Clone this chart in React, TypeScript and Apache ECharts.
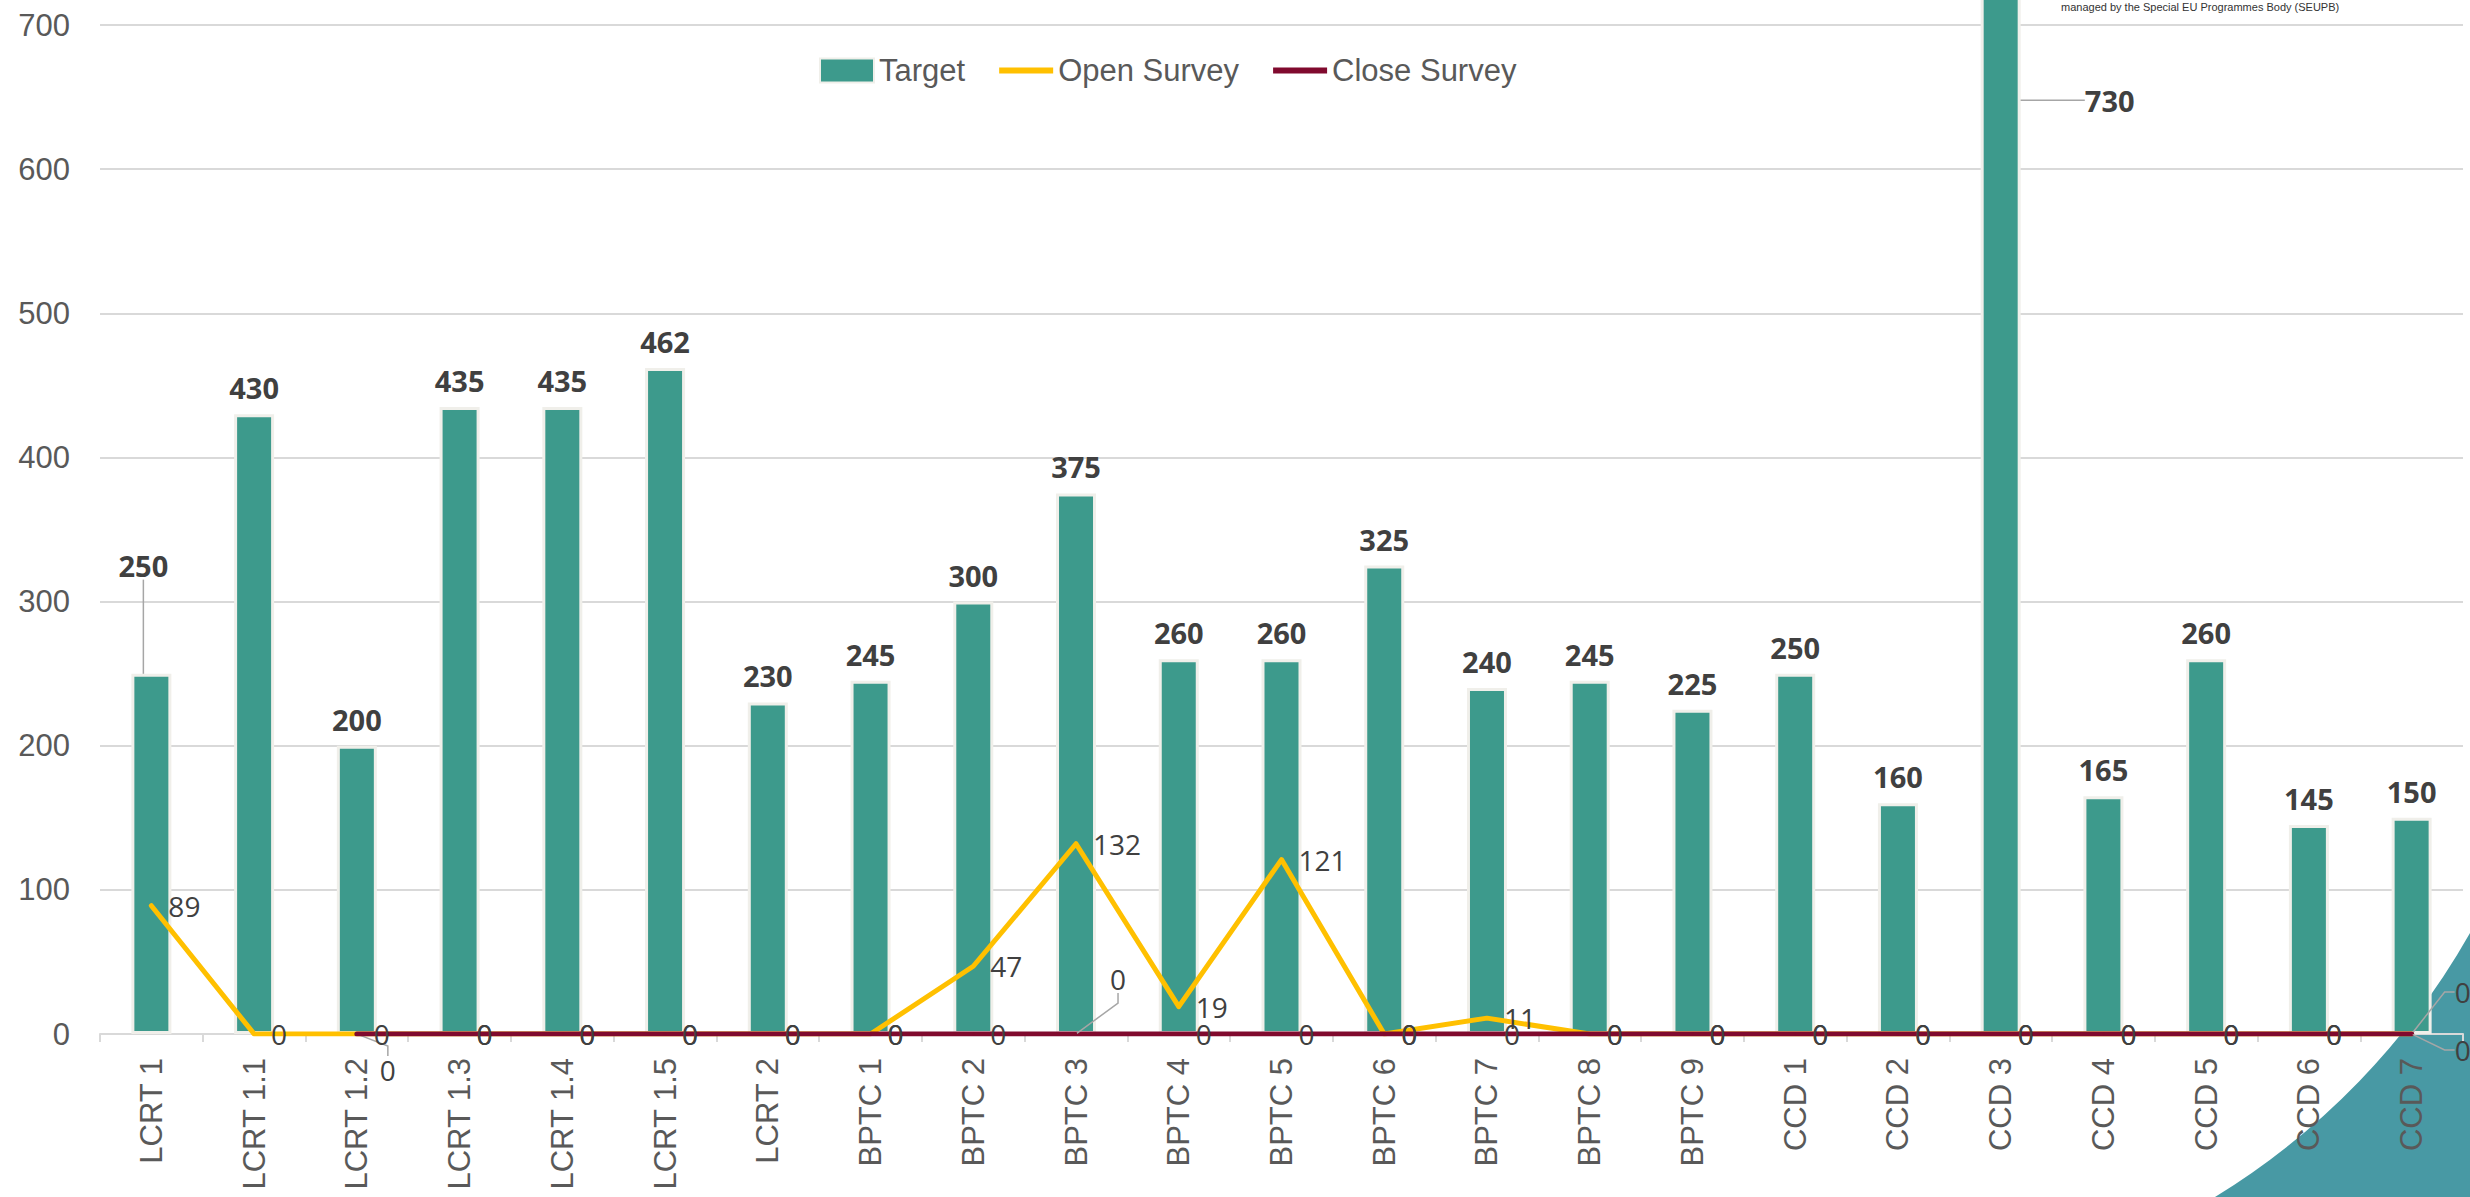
import React, { useEffect, useRef } from 'react';
import * as echarts from 'echarts';

// ---------- data ----------
const categories = [
  'LCRT 1', 'LCRT 1.1', 'LCRT 1.2', 'LCRT 1.3', 'LCRT 1.4', 'LCRT 1.5', 'LCRT 2',
  'BPTC 1', 'BPTC 2', 'BPTC 3', 'BPTC 4', 'BPTC 5', 'BPTC 6', 'BPTC 7', 'BPTC 8', 'BPTC 9',
  'CCD 1', 'CCD 2', 'CCD 3', 'CCD 4', 'CCD 5', 'CCD 6', 'CCD 7',
];
const targetValues = [250, 430, 200, 435, 435, 462, 230, 245, 300, 375, 260, 260, 325, 240, 245, 225, 250, 160, 730, 165, 260, 145, 150];
const openSurveyValues = [89, 0, 0, 0, 0, 0, 0, 0, 47, 132, 19, 121, 0, 11, 0, 0, 0, 0, 0, 0, 0, 0, 0];
const closeSurveyValues: (number | null)[] = [null, null, 0, 0, 0, 0, 0, 0, 0, 0, 0, 0, 0, 0, 0, 0, 0, 0, 0, 0, 0, 0, 0];
const yMin = 0;
const yMax = 700;
const yInterval = 100;
const footnote = 'managed by the Special EU Programmes Body (SEUPB)';

// ---------- label displacement (styling, px) ----------
const targetLabelShift: Record<number, [number, number]> = { 0: [-8, -82], 18: [109, 145] };
const openLabelShift: Record<number, [number, number]> = { 2: [6, 36], 22: [26, -42] };
const closeLabelShift: Record<number, [number, number]> = { 9: [17, -55], 22: [26, 16] };

const LINE_ICON = 'path://M0 0H56V6H0Z';

echarts.graphic.registerShape(
  'cornerSwoosh',
  echarts.graphic.extendPath('M2215 1197 A733 733 0 0 0 2470 933 L2470 1197 Z', {})
);

const leader = { show: false, length2: 10, lineStyle: { color: '#A6A6A6', width: 1.5 } };

function withLeaders(values: (number | null)[], shifts: Record<number, [number, number]>) {
  return values.map((v, i) => (shifts[i] && v !== null ? { value: v, labelLine: { show: true } } : v));
}

function layoutFrom(shifts: Record<number, [number, number]>) {
  return (params: any) => {
    const s = shifts[params.dataIndex];
    return s ? { dx: s[0], dy: s[1] } : {};
  };
}

export default function App() {
  const ref = useRef<HTMLDivElement>(null);

  useEffect(() => {
    document.body.style.margin = '0';
    document.body.style.overflow = 'hidden';
    if (!ref.current) return;
    const chart = echarts.init(ref.current, null, { renderer: 'svg' });

    const option: any = {
      animation: false,
      backgroundColor: '#ffffff',
      grid: { left: 100, right: 7, top: 25, bottom: 163, containLabel: false },
      legend: {
        left: 814,
        top: 50,
        itemWidth: 54,
        itemHeight: 24,
        itemGap: 34,
        textStyle: { fontSize: 31, color: '#595959', fontFamily: '"Liberation Sans", Arial' },
        data: [
          { name: 'Target', icon: 'rect' },
          { name: 'Open Survey', icon: LINE_ICON },
          { name: 'Close Survey', icon: LINE_ICON },
        ],
      },
      graphic: [
        { type: 'cornerSwoosh', x: 0, y: 0, z: -1, silent: true, style: { fill: '#4899A4' } },
        {
          type: 'text', x: 2061, y: 1, z: 100, silent: true,
          style: { text: footnote, font: '11px "Liberation Sans", Arial', fill: '#333333' },
        },
      ],
      xAxis: {
        type: 'category',
        data: categories,
        boundaryGap: true,
        axisLine: { lineStyle: { color: '#D9D9D9', width: 2 } },
        axisTick: { show: true, length: 8, lineStyle: { color: '#D9D9D9', width: 2 } },
        axisLabel: {
          rotate: 90, margin: 24, interval: 0, fontSize: 31,
          fontFamily: '"Liberation Sans", Arial', color: '#595959',
        },
      },
      yAxis: {
        type: 'value',
        min: yMin,
        max: yMax,
        interval: yInterval,
        axisLine: { show: false },
        axisTick: { show: false },
        axisLabel: { fontSize: 31, margin: 30, fontFamily: '"Liberation Sans", Arial', color: '#595959' },
        splitLine: { lineStyle: { color: '#D9D9D9', width: 2 } },
      },
      series: [
        {
          name: 'Target',
          type: 'bar',
          data: withLeaders(targetValues, targetLabelShift),
          barWidth: 40,
          clip: false,
          itemStyle: { color: '#3D9A8C', borderColor: '#F0EFEA', borderWidth: 3 },
          label: {
            show: true, position: 'top', distance: 12,
            fontFamily: '"Open Sans", sans-serif', fontWeight: 'bold', fontSize: 29, color: '#404040',
          },
          labelLine: leader,
          labelLayout: layoutFrom(targetLabelShift),
          z: 2,
        },
        {
          name: 'Open Survey',
          type: 'line',
          data: withLeaders(openSurveyValues, openLabelShift),
          symbol: 'circle',
          symbolSize: 2,
          showSymbol: true,
          showAllSymbol: true,
          itemStyle: { color: '#FFC000' },
          lineStyle: { color: '#FFC000', width: 5, cap: 'round', join: 'round' },
          label: {
            show: true, position: 'right', distance: 16,
            fontFamily: '"Open Sans", sans-serif', fontSize: 28, color: '#404040',
          },
          labelLine: leader,
          labelLayout: layoutFrom(openLabelShift),
          z: 3,
        },
        {
          name: 'Close Survey',
          type: 'line',
          data: withLeaders(closeSurveyValues, closeLabelShift),
          symbol: 'circle',
          symbolSize: 2,
          showSymbol: true,
          showAllSymbol: true,
          itemStyle: { color: '#800A2E' },
          lineStyle: { color: '#800A2E', width: 5, cap: 'round', join: 'round' },
          label: {
            show: true, position: 'right', distance: 16,
            fontFamily: '"Open Sans", sans-serif', fontSize: 28, color: '#404040',
          },
          labelLine: leader,
          labelLayout: layoutFrom(closeLabelShift),
          z: 4,
        },
      ],
    };

    chart.setOption(option);
    return () => chart.dispose();
  }, []);

  return <div ref={ref} style={{ width: 2470, height: 1197 }} />;
}
